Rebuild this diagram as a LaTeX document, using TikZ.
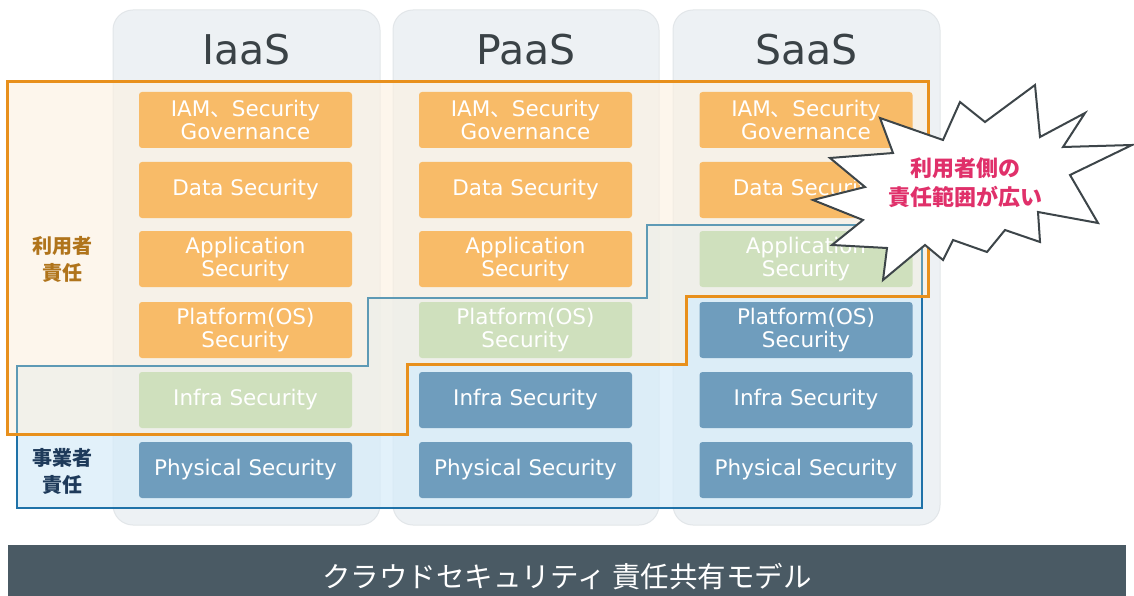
\documentclass[tikz,border=0pt]{standalone}
\usepackage{fontspec}
\setmainfont{DejaVu Sans}
\newfontfamily\jp{Noto Sans CJK JP}
\definecolor{colfill}{HTML}{EDF1F4}
\definecolor{colline}{HTML}{E2E6E9}
\definecolor{orfill}{HTML}{FDF1E0}
\definecolor{orline}{HTML}{E8901C}
\definecolor{blfill}{HTML}{D6ECF9}
\definecolor{blline}{HTML}{1F72A8}
\definecolor{blsoft}{HTML}{5E9AB5}
\definecolor{boxor}{HTML}{F8BB68}
\definecolor{boxgr}{HTML}{CFE0BD}
\definecolor{boxbl}{HTML}{6F9DBD}
\definecolor{headc}{HTML}{3A4246}
\definecolor{banner}{HTML}{4A5A64}
\definecolor{userc}{HTML}{B0741B}
\definecolor{provc}{HTML}{1E3A5A}
\definecolor{burstc}{HTML}{3D4549}
\definecolor{pinkc}{HTML}{E0306A}
\tikzset{
  column/.style={fill=colfill, draw=colline, line width=1pt, rounded corners=20pt},
  layer/.style={minimum width=213pt, minimum height=56pt, inner sep=0pt, rounded corners=3pt,
    align=center, text=white, font=\fontsize{21.5}{22.5}\selectfont},
  orbox/.style={layer, fill=boxor},
  grbox/.style={layer, fill=boxgr},
  blbox/.style={layer, fill=boxbl},
  head/.style={text=headc, font=\fontsize{41}{44}\selectfont},
  sidelabel/.style={align=center, font=\jp\bfseries\fontsize{20}{27}\selectfont},
}
\begin{document}
\begin{tikzpicture}[x=1pt,y=-1pt]
\useasboundingbox (0,0) rectangle (1134,596);
\fill[white] (0,0) rectangle (1134,596);
% columns
\draw[column] (113,10) rectangle (380,525);
\draw[column] (393,10) rectangle (659,525);
\draw[column] (673,10) rectangle (940,525);
\node[head] (hi) at (246.5,50) {IaaS};
\node[head] (hp) at (526,50) {PaaS};
\node[head] (hs) at (806.5,50) {SaaS};
% provider region
\path[fill=blfill, fill opacity=0.7] (17,366) -- (368,366) -- (368,298) -- (647,298) -- (647,225) -- (922,225) -- (922,508) -- (17,508) -- cycle;
% user region
\path[fill=orfill, fill opacity=0.6] (7,82) -- (928,82) -- (928,296) -- (686,296) -- (686,364) -- (407,364) -- (407,434) -- (7,434) -- cycle;
% provider outline: softer where it runs inside the user region
\draw[blsoft, line width=2.5pt] (17,434) -- (17,366) -- (368,366) -- (368,298) -- (647,298) -- (647,225) -- (922,225) -- (922,297);
\draw[blline, line width=2.5pt] (922,296) -- (922,508) -- (17,508) -- (17,433);
\draw[orline, line width=3pt] (7,82) -- (928,82) -- (928,296) -- (686,296) -- (686,364) -- (407,364) -- (407,434) -- (7,434) -- cycle;
% IaaS
\node[orbox] (i1) at (245.5,120) {IAM{\jp 、}Security\\Governance};
\node[orbox] (i2) at (245.5,190) {Data Security};
\node[orbox] (i3) at (245.5,259) {Application\\Security};
\node[orbox] (i4) at (245.5,330) {Platform(OS)\\Security};
\node[grbox] (i5) at (245.5,400) {Infra Security};
\node[blbox] (i6) at (245.5,470) {Physical Security};
% PaaS
\node[orbox] (p1) at (525.5,120) {IAM{\jp 、}Security\\Governance};
\node[orbox] (p2) at (525.5,190) {Data Security};
\node[orbox] (p3) at (525.5,259) {Application\\Security};
\node[grbox] (p4) at (525.5,330) {Platform(OS)\\Security};
\node[blbox] (p5) at (525.5,400) {Infra Security};
\node[blbox] (p6) at (525.5,470) {Physical Security};
% SaaS
\node[orbox] (s1) at (806,120) {IAM{\jp 、}Security\\Governance};
\node[orbox] (s2) at (806,190) {Data Security};
\node[grbox] (s3) at (806,259) {Application\\Security};
\node[blbox] (s4) at (806,330) {Platform(OS)\\Security};
\node[blbox] (s5) at (806,400) {Infra Security};
\node[blbox] (s6) at (806,470) {Physical Security};
% side labels
\node[sidelabel, text=userc] (ul) at (62,259) {利用者\\責任};
\node[sidelabel, text=provc] (pl) at (62,471) {事業者\\責任};
% burst
\draw[fill=white, draw=burstc, line width=2pt, line join=miter]
  (880,118) -- (943,140) -- (960,102) -- (985,122) -- (1035,85) -- (1040,137) -- (1085,113) -- (1063,147)
  -- (1132,145) -- (1070,175) -- (1098,223) -- (1038,212) -- (1040,242) -- (1005,230) -- (987,252)
  -- (953,240) -- (943,260) -- (925,245) -- (883,280) -- (887,248) -- (832,245) -- (863,220)
  -- (813,200) -- (865,187) -- (830,158) -- (893,153) -- cycle;
\node[align=center, text=pinkc, font=\jp\bfseries\fontsize{22}{29}\selectfont] (bt) at (965,183) {利用者側の\\責任範囲が広い};
% banner
\fill[banner] (8,545) rectangle (1126,596);
\node[text=white, font=\jp\fontsize{28.5}{30}\selectfont] (title) at (567,577) {クラウドセキュリティ 責任共有モデル};
\end{tikzpicture}
\end{document}
